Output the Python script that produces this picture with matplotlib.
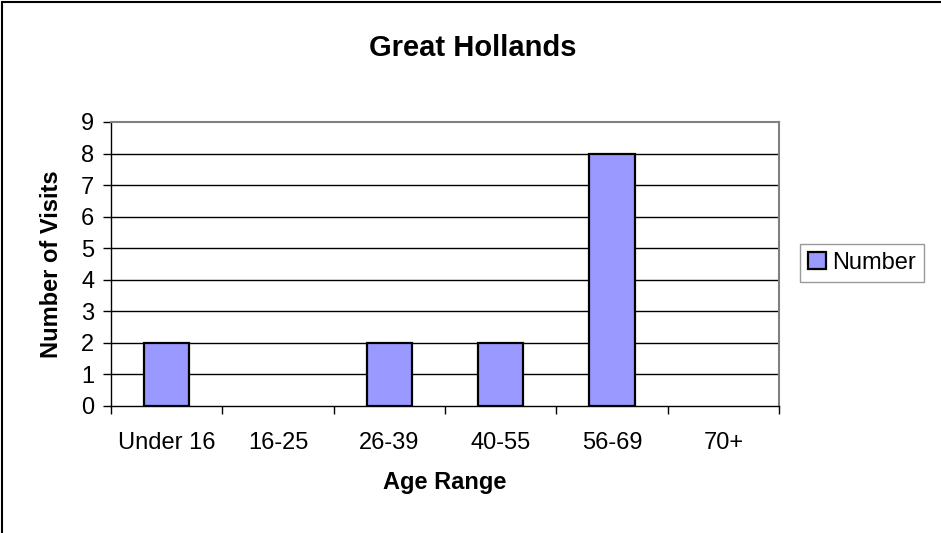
import matplotlib
matplotlib.use('Agg')
import matplotlib.pyplot as plt
from matplotlib.patches import Rectangle
import numpy as np

# data
age_ranges = ['Under 16', '16-25', '26-39', '40-55', '56-69', '70+']
visits = [2, 0, 2, 2, 8, 0]
y_ticks = list(range(0, 10))

plt.rcParams['font.family'] = ['Liberation Sans', 'DejaVu Sans']

fig = plt.figure(figsize=(9.41, 5.33), dpi=100)
ax = fig.add_axes([111 / 941, 1 - 406 / 533, 668 / 941, 284 / 533])

x = np.arange(len(age_ranges))
bars = ax.bar(x, visits, width=0.41, color='#9999ff', edgecolor='black',
              linewidth=1.6, label='Number', zorder=3)
# empty categories show no outline
for b, v in zip(bars, visits):
    if v == 0:
        b.set_visible(False)

ax.set_xlim(-0.5, len(age_ranges) - 0.5)
ax.set_ylim(0, 9)
ax.set_yticks(y_ticks)
ax.set_yticklabels([str(v) for v in y_ticks], fontsize=17)
ax.set_xticks(x)
ax.set_xticklabels(age_ranges, fontsize=17)
ax.tick_params(axis='x', length=0, pad=19)
ax.tick_params(axis='y', length=6, width=1, pad=6)

# category boundary ticks on the x axis
ax.set_xticks(np.arange(-0.5, len(age_ranges)), minor=True)
ax.tick_params(axis='x', which='minor', length=6, width=1, direction='out')

for v in y_ticks[1:-1]:
    ax.axhline(v, color='black', linewidth=1, zorder=1)

ax.spines['top'].set_color('#808080')
ax.spines['right'].set_color('#808080')
ax.spines['top'].set_linewidth(1.5)
ax.spines['right'].set_linewidth(1.5)
ax.spines['left'].set_linewidth(1)
ax.spines['bottom'].set_linewidth(1)

ax.set_xlabel('Age Range', fontsize=17, fontweight='bold', labelpad=12)
ax.set_ylabel('Number of Visits', fontsize=17, fontweight='bold', labelpad=13)
fig.text(473 / 941, 1 - 48 / 533, 'Great Hollands', fontsize=21,
         fontweight='bold', ha='center', va='center')

leg = ax.legend(loc='center left', bbox_to_anchor=(800 / 941, 1 - 263 / 533),
                bbox_transform=fig.transFigure, fontsize=17, frameon=True,
                fancybox=False, edgecolor='#808080', handlelength=0.75,
                handleheight=0.75, handletextpad=0.25, borderpad=0.35,
                borderaxespad=0)
leg.get_frame().set_linewidth(1)

# outer chart border (only left and top visible in the image)
fig.patches.append(Rectangle((2 / 941, -0.1), 1.2, 1 - 2 / 533 + 0.1,
                             transform=fig.transFigure, fill=False,
                             edgecolor='black', linewidth=1.5))

fig.savefig('out.png', dpi=100)
